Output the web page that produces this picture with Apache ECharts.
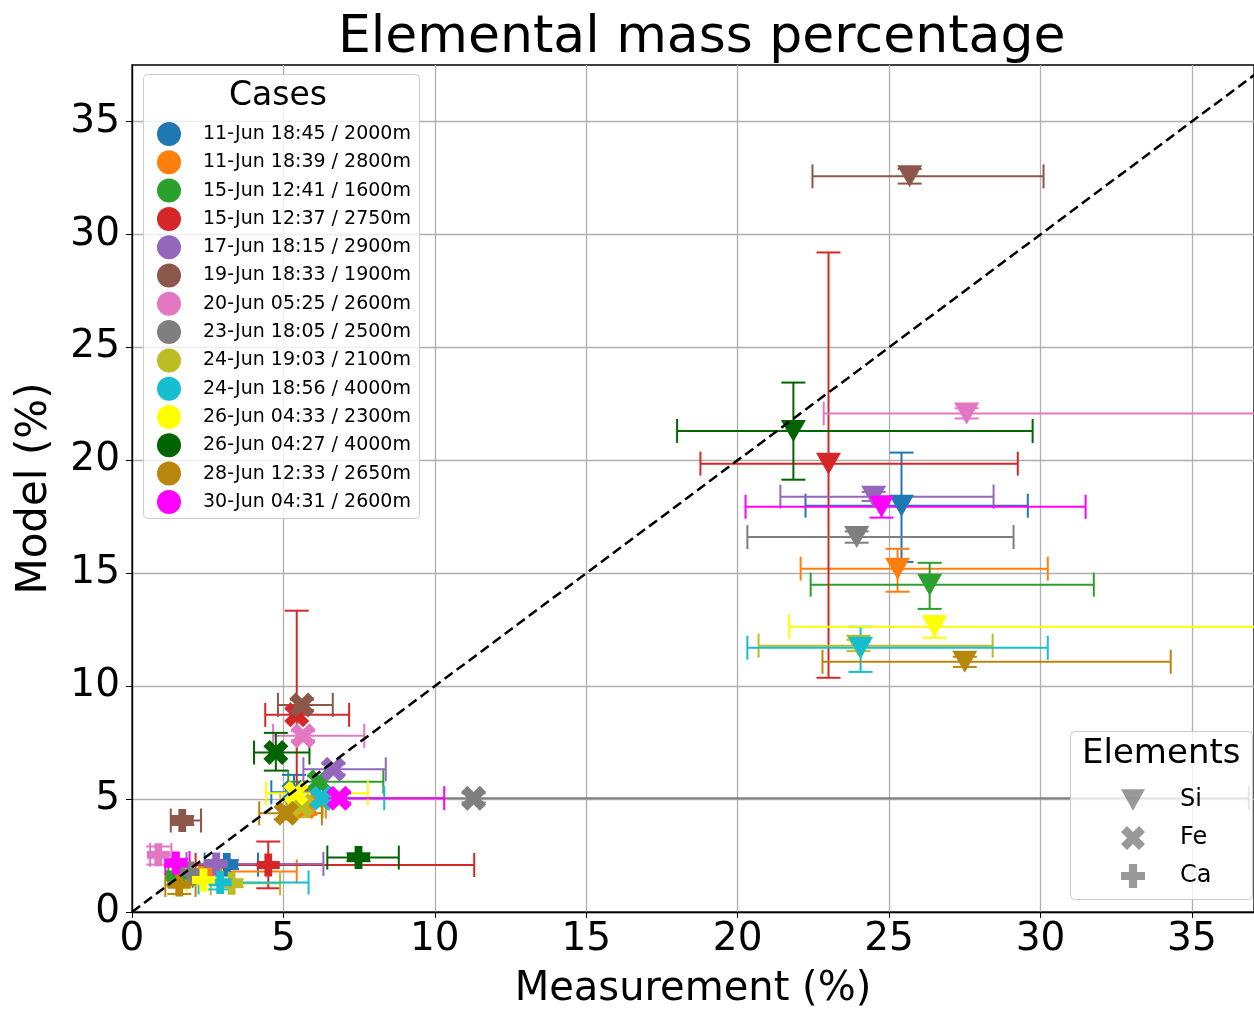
<!DOCTYPE html>
<html>
<head>
<meta charset="utf-8">
<title>Elemental mass percentage</title>
<script src="https://cdn.jsdelivr.net/npm/echarts@6/dist/echarts.min.js"></script>
<style>
  html, body { margin: 0; padding: 0; background: #fff; }
  #main { width: 1254px; height: 1011px; }
</style>
</head>
<body>
<div id="main"></div>
<script>
// cases, in legend order
var cases = [
  '11-Jun 18:45 / 2000m', '11-Jun 18:39 / 2800m', '15-Jun 12:41 / 1600m',
  '15-Jun 12:37 / 2750m', '17-Jun 18:15 / 2900m', '19-Jun 18:33 / 1900m',
  '20-Jun 05:25 / 2600m', '23-Jun 18:05 / 2500m', '24-Jun 19:03 / 2100m',
  '24-Jun 18:56 / 4000m', '26-Jun 04:33 / 2300m', '26-Jun 04:27 / 4000m',
  '28-Jun 12:33 / 2650m', '30-Jun 04:31 / 2600m'
];
var caseColors = [
  '#1f77b4', '#ff7f0e', '#2ca02c', '#d62728', '#9467bd', '#8c564b', '#e377c2',
  '#7f7f7f', '#bcbd22', '#17becf', '#ffff00', '#006400', '#b8860b', '#ff00ff'
];

// one row per case: [measured, model, xLow, xHigh, yLow, yHigh]
var siData = [
  [25.41, 17.99, 22.24, 29.58, 15.50, 20.34],
  [25.28, 15.20, 22.08, 30.24, 14.18, 16.08],
  [26.34, 14.49, 22.41, 31.76, 13.42, 15.46],
  [23.00, 19.85, 18.77, 29.25, 10.37, 29.20],
  [24.49, 18.39, 21.41, 28.45, 18.20, 18.60],
  [25.68, 32.57, 22.47, 30.10, 32.25, 32.90],
  [27.56, 22.07, 22.84, 40.00, 21.85, 22.30],
  [23.93, 16.60, 20.32, 29.11, 16.35, 16.85],
  [23.99, 11.79, 20.69, 28.42, 11.55, 12.05],
  [24.06, 11.70, 20.32, 30.24, 10.63, 12.63],
  [26.50, 12.63, 21.70, 40.00, 12.14, 13.10],
  [21.84, 21.30, 18.00, 29.74, 19.14, 23.44],
  [27.50, 11.08, 22.80, 34.30, 10.85, 11.30],
  [24.75, 17.94, 20.26, 31.49, 17.46, 18.40]
];
var feData = [
  [5.35, 5.30, 4.60, 6.20, 4.60, 6.07],
  [5.72, 4.67, 5.10, 6.40, 4.30, 5.00],
  [6.18, 5.77, 5.16, 8.30, 5.50, 6.00],
  [5.44, 8.73, 4.40, 7.17, 5.40, 13.34],
  [6.65, 6.32, 5.66, 8.38, 6.10, 6.55],
  [5.61, 9.17, 4.82, 6.63, 8.95, 9.40],
  [5.65, 7.80, 4.66, 7.67, 7.60, 8.00],
  [11.28, 5.04, 6.50, 36.88, 4.85, 5.25],
  [5.60, 4.70, 4.90, 6.30, 4.20, 4.95],
  [6.27, 5.04, 5.50, 8.33, 4.80, 5.30],
  [5.41, 5.26, 4.43, 7.79, 5.00, 5.50],
  [4.75, 7.06, 4.03, 5.86, 6.26, 7.93],
  [5.09, 4.37, 4.20, 6.27, 4.10, 4.65],
  [6.84, 5.04, 5.94, 10.31, 4.85, 5.25]
];
var caData = [
  [3.13, 2.10, 2.40, 4.16, 1.90, 2.30],
  [2.58, 1.79, 1.90, 5.44, 1.60, 2.00],
  [1.50, 1.60, 1.20, 2.00, 1.40, 1.80],
  [4.50, 2.08, 2.10, 11.30, 1.05, 3.12],
  [2.78, 2.13, 1.80, 6.32, 1.95, 2.30],
  [1.66, 4.05, 1.28, 2.28, 3.85, 4.25],
  [0.87, 2.53, 0.60, 1.30, 2.10, 2.90],
  [1.92, 1.73, 1.50, 2.40, 1.55, 1.90],
  [3.29, 1.27, 2.60, 4.89, 1.10, 1.45],
  [2.91, 1.31, 2.20, 5.83, 1.00, 1.60],
  [2.36, 1.42, 1.80, 3.00, 1.25, 1.60],
  [7.48, 2.41, 6.45, 8.81, 2.25, 2.60],
  [1.56, 1.20, 1.10, 2.10, 0.80, 1.50],
  [1.45, 2.17, 1.10, 1.90, 2.00, 2.35]
];

var elements = ['Si', 'Fe', 'Ca'];
var xTicks = [0, 5, 10, 15, 20, 25, 30, 35];
var yTicks = [0, 5, 10, 15, 20, 25, 30, 35];
var diagonal = [[0, 0], [40, 40]];

// marker shapes: triangle down, filled X, filled plus
var symTri = 'path://M0,0L20,0L10,18Z';
var symX = 'path://M2.5,0L5,2.5L7.5,0L10,2.5L7.5,5L10,7.5L7.5,10L5,7.5L2.5,10L0,7.5L2.5,5L0,2.5Z';
var symPlus = 'path://M3.3,0H6.7V3.3H10V6.7H6.7V10H3.3V6.7H0V3.3H3.3Z';
var elemSymbols = [symTri, symX, symPlus];
var elemSizes = [[25, 22], 25, 23];
var elemRows = [siData, feData, caData];

var font = 'DejaVu Sans';

function errorBar(params, api) {
  var x = api.value(0), y = api.value(1);
  var l = api.coord([api.value(2), y]);
  var r = api.coord([api.value(3), y]);
  var b = api.coord([x, api.value(4)]);
  var t = api.coord([x, api.value(5)]);
  var st = { stroke: api.visual('color'), lineWidth: 2 };
  var cap = 12;
  function seg(x1, y1, x2, y2) {
    return { type: 'line', shape: { x1: x1, y1: y1, x2: x2, y2: y2 }, style: st };
  }
  return {
    type: 'group',
    children: [
      seg(l[0], l[1], r[0], r[1]),
      seg(l[0], l[1] - cap, l[0], l[1] + cap),
      seg(r[0], r[1] - cap, r[0], r[1] + cap),
      seg(b[0], b[1], t[0], t[1]),
      seg(b[0] - cap, b[1], b[0] + cap, b[1]),
      seg(t[0] - cap, t[1], t[0] + cap, t[1])
    ]
  };
}

var series = [];
cases.forEach(function (name, i) {
  var rows = elemRows.map(function (arr) { return arr[i]; });
  series.push({
    name: name,
    type: 'custom',
    renderItem: errorBar,
    clip: true,
    itemStyle: { color: caseColors[i] },
    encode: { x: 0, y: 1 },
    data: rows,
    silent: true
  });
  series.push({
    name: name,
    type: 'scatter',
    itemStyle: { color: caseColors[i], opacity: 1 },
    data: rows.map(function (r, k) {
      return { value: [r[0], r[1]], symbol: elemSymbols[k], symbolSize: elemSizes[k] };
    })
  });
});
elements.forEach(function (el, k) {
  series.push({
    name: el, type: 'scatter', data: [],
    symbol: elemSymbols[k], itemStyle: { color: '#808080' }
  });
});
series.push({
  type: 'line',
  data: diagonal,
  symbol: 'none',
  silent: true,
  clip: true,
  z: 5,
  lineStyle: { color: '#000', width: 2.5, type: [10, 5] }
});

var chart = echarts.init(document.getElementById('main'));
chart.setOption({
  animation: false,
  backgroundColor: '#fff',
  title: {
    text: 'Elemental mass percentage',
    left: 333,
    top: 7,
    textStyle: { fontFamily: font, fontSize: 52, fontWeight: 'normal', color: '#000' }
  },
  grid: {
    left: 132, top: 65, right: 0, bottom: 99,
    outerBoundsMode: 'none',
    show: true, borderColor: '#000', borderWidth: 1.3
  },
  xAxis: {
    type: 'value', min: 0, max: 37.05, interval: 5,
    name: 'Measurement (%)', nameLocation: 'middle', nameGap: 58,
    nameTextStyle: { fontFamily: font, fontSize: 40, color: '#000' },
    axisLine: { show: true, lineStyle: { color: '#000', width: 1.3 } },
    axisTick: { show: true, length: 6, lineStyle: { color: '#000' }, customValues: xTicks },
    axisLabel: { fontFamily: font, fontSize: 39, color: '#000', margin: 8, customValues: xTicks },
    splitLine: { show: true, lineStyle: { color: '#b0b0b0', width: 1.3 } }
  },
  yAxis: {
    type: 'value', min: 0, max: 37.5, interval: 5,
    name: 'Model (%)', nameLocation: 'middle', nameGap: 76,
    nameTextStyle: { fontFamily: font, fontSize: 42, color: '#000' },
    axisLine: { show: true, lineStyle: { color: '#000', width: 1.3 } },
    axisTick: { show: true, length: 6, lineStyle: { color: '#000' }, customValues: yTicks },
    axisLabel: { fontFamily: font, fontSize: 39, color: '#000', margin: 12, customValues: yTicks },
    splitLine: { show: true, lineStyle: { color: '#b0b0b0', width: 1.3 } }
  },
  legend: [
    {
      data: cases.map(function (n) { return { name: n, icon: 'circle' }; }),
      orient: 'vertical', left: 143, top: 76,
      itemWidth: 24, itemHeight: 24, itemGap: 4.3,
      padding: [46, 9, 7, 14],
      selectedMode: false, z: 12,
      textStyle: { fontFamily: font, fontSize: 19, color: '#000', padding: [0, 0, 0, 17] }
    },
    {
      data: elements.map(function (n, k) { return { name: n, icon: elemSymbols[k] }; }),
      orient: 'vertical', left: 1070, top: 733,
      itemWidth: 24, itemHeight: 24, itemGap: 14,
      padding: [55, 10, 13, 51],
      selectedMode: false, z: 12,
      textStyle: { fontFamily: font, fontSize: 24, color: '#000', padding: [0, 0, 0, 30] }
    }
  ],
  graphic: [
    {
      type: 'rect', z: 10, left: 143, top: 74,
      shape: { width: 276, height: 444, r: 4 },
      style: { fill: 'rgba(255,255,255,0.8)', stroke: '#cccccc', lineWidth: 1 }
    },
    {
      type: 'text', z: 11, left: 229, top: 80,
      style: { text: 'Cases', font: '33px "DejaVu Sans"', fill: '#000' }
    },
    {
      type: 'rect', z: 10, left: 1070, top: 731,
      shape: { width: 182, height: 168, r: 4 },
      style: { fill: 'rgba(255,255,255,0.8)', stroke: '#cccccc', lineWidth: 1 }
    },
    {
      type: 'text', z: 11, left: 1082, top: 737,
      style: { text: 'Elements', font: '34px "DejaVu Sans"', fill: '#000' }
    }
  ],
  series: series
});
</script>
</body>
</html>
